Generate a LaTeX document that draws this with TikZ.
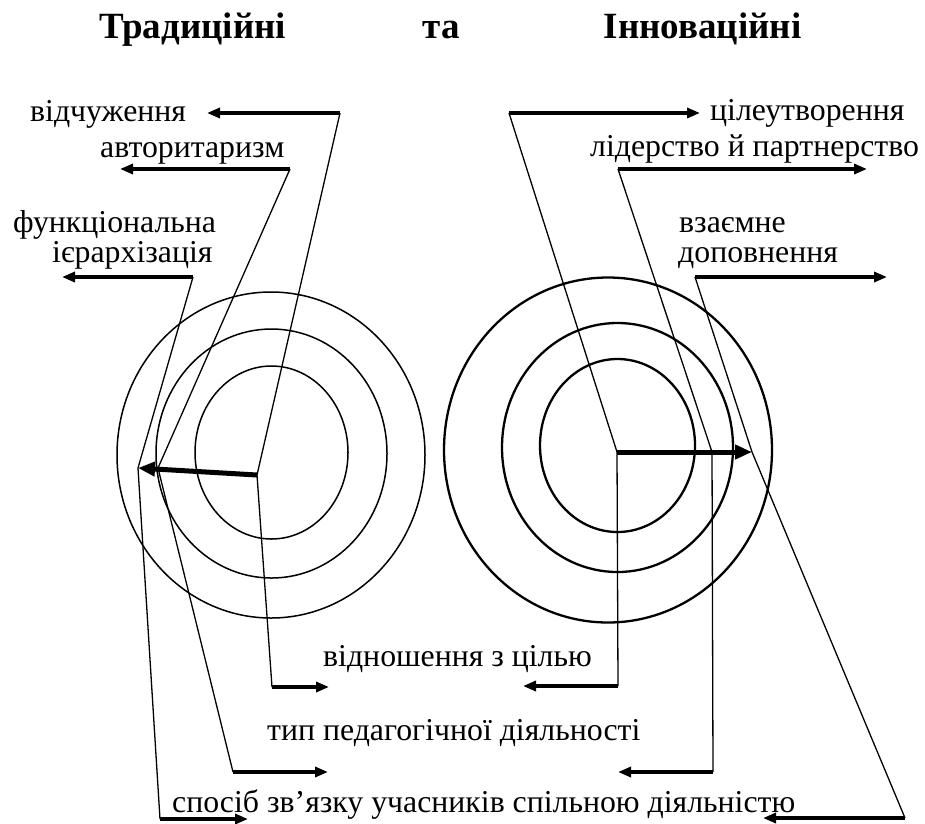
\documentclass[tikz,border=0pt]{standalone}
\usepackage{fontspec}
\setmainfont{Liberation Serif}
\newfontfamily\timesfont{Liberation Serif}
\usetikzlibrary{arrows.meta}
\begin{document}
\begin{tikzpicture}[x=1pt,y=-1pt,
  lbl/.style={anchor=base west, inner sep=0pt, font=\timesfont\fontsize{31.8}{36}\selectfont},
  ttl/.style={anchor=base, inner sep=0pt, font=\timesfont\fontsize{37}{44}\selectfont\bfseries},
  conn/.style={line width=1.3pt, line join=miter},
  lblarrow/.style={line width=3.3pt, -{Triangle[length=13pt,width=10pt]}},
  hubarrow/.style={line width=5pt, -{Triangle[length=17pt,width=14pt]}},
  ringL/.style={line width=1.5pt},
  ringR/.style={line width=2.3pt}]
\useasboundingbox (0,0) rectangle (925,823);
% titles
\node[ttl] (t1) at (192.5,38) {Традиційні};
\node[ttl] (t2) at (441,38) {та};
\node[ttl] (t3) at (702.5,38) {Інноваційні};
% labels
\node[lbl] (l1) at (30,121) {відчуження};
\node[lbl] (l2) at (100,157) {авторитаризм};
\node[lbl] (l3) at (13,232) {функціональна};
\node[lbl] (l4) at (52,262) {ієрархізація};
\node[lbl] (r1) at (710,120) {цілеутворення};
\node[lbl] (r2) at (590,156) {лідерство й партнерство};
\node[lbl] (r3) at (679,232) {взаємне};
\node[lbl] (r4) at (678,262) {доповнення};
\node[lbl] (b1) at (323,666) {відношення з цілью};
\node[lbl] (b2) at (267,740) {тип педагогічної діяльності};
\node[lbl] (b3) at (172,812) {спосіб зв’язку учасників спільною діяльністю};
% rings
\draw[ringL] (271,455) ellipse [x radius=154pt, y radius=163pt];
\draw[ringL] (271.5,453.5) ellipse [x radius=115.5pt, y radius=124.5pt];
\draw[ringL] (271.5,452.5) ellipse [x radius=76.5pt, y radius=86.5pt];
\draw[ringR] (608,450) ellipse [x radius=164pt, y radius=172.5pt];
\draw[ringR] (617.5,447.5) ellipse [x radius=115.5pt, y radius=124.5pt];
\draw[ringR] (617.5,445.5) ellipse [x radius=77.5pt, y radius=86.5pt];
% left coordinates
\coordinate (hL) at (257,475);
\coordinate (hLtip) at (138,468);
\coordinate (vS) at (340,113); \coordinate (vT) at (207,113);
\coordinate (aS) at (290,169); \coordinate (aT) at (120,169);
\coordinate (aB) at (158,468); \coordinate (aE) at (233,772); \coordinate (aET) at (328,772);
\coordinate (fS) at (193,277); \coordinate (fT) at (62,277);
\coordinate (fE) at (160,819); \coordinate (fET) at (248,819);
\coordinate (dL) at (272,687); \coordinate (dLT) at (329,687);
% right coordinates
\coordinate (hR) at (617,452); \coordinate (hRtip) at (752,452);
\coordinate (cS) at (509,113); \coordinate (cT) at (700,113);
\coordinate (pS) at (618,169); \coordinate (pT) at (867,169);
\coordinate (pB) at (712,452); \coordinate (pE) at (713,772); \coordinate (pET) at (618,772);
\coordinate (eS) at (695,277); \coordinate (eT) at (887,277);
\coordinate (eE) at (905,818); \coordinate (eET) at (763,818);
\coordinate (dR) at (618,686); \coordinate (dRT) at (523,686);
% thin connectors
\draw[conn] (vS) -- (hL);
\draw[conn] (aS) -- (aB) -- (aE);
\draw[conn] (fS) -- (hLtip) -- (fE);
\draw[conn] (hL) -- (dL);
\draw[conn] (cS) -- (hR);
\draw[conn] (pS) -- (pB) -- (pE);
\draw[conn] (eS) -- (hRtip) -- (eE);
\draw[conn] (hR) -- (dR);
% label arrows
\draw[lblarrow] (vS) -- (vT);
\draw[lblarrow] (aS) -- (aT);
\draw[lblarrow] (aE) -- (aET);
\draw[lblarrow] (fS) -- (fT);
\draw[lblarrow] (fE) -- (fET);
\draw[lblarrow] (dL) -- (dLT);
\draw[lblarrow] (cS) -- (cT);
\draw[lblarrow] (pS) -- (pT);
\draw[lblarrow] (pE) -- (pET);
\draw[lblarrow] (eS) -- (eT);
\draw[lblarrow] (eE) -- (eET);
\draw[lblarrow] (dR) -- (dRT);
% hub arrows
\draw[hubarrow] (hL) -- (hLtip);
\draw[hubarrow] (hR) -- (hRtip);
\end{tikzpicture}
\end{document}
